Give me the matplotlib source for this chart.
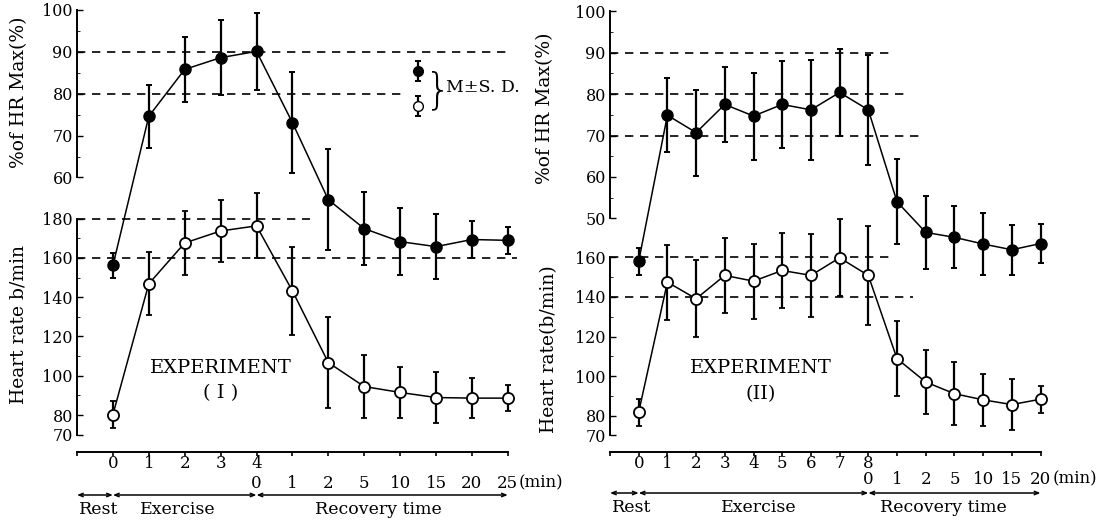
import numpy as np
import matplotlib.pyplot as plt

plt.rcParams['font.family'] = ['DejaVu Serif']

# ---- data: Experiment I ----
pos1 = np.arange(12)
row1_lab1 = ["0", "1", "2", "3", "4"]
row2_lab1 = ["0", "1", "2", "5", "10", "15", "20", "25"]
pct1 = [39.0, 74.6, 85.8, 88.6, 90.1, 73.1, 54.7, 47.8, 44.7, 43.5, 45.2, 45.0]
pct1_sd = [3.0, 7.5, 7.7, 9.0, 9.2, 12.0, 12.0, 8.7, 8.0, 7.7, 4.4, 3.2]
hr1 = [80.2, 146.8, 167.6, 173.7, 176.3, 143.2, 106.7, 94.5, 91.5, 88.9, 88.6, 88.6]
hr1_sd = [6.7, 16.0, 16.5, 16.0, 16.5, 22.5, 23.0, 16.0, 13.0, 13.0, 10.0, 6.8]

# ---- data: Experiment II ----
pos2 = np.arange(15)
row1_lab2 = ["0", "1", "2", "3", "4", "5", "6", "7", "8"]
row2_lab2 = ["0", "1", "2", "5", "10", "15", "20"]
pct2 = [39.6, 74.9, 70.7, 77.5, 74.7, 77.5, 76.2, 80.4, 76.2, 54.0, 46.6, 45.4, 43.8, 42.4, 43.9]
pct2_sd = [3.3, 9.0, 10.4, 9.0, 10.5, 10.5, 12.0, 10.5, 13.3, 10.3, 8.8, 7.5, 7.5, 6.0, 4.7]
hr2 = [81.8, 147.5, 139.1, 150.9, 148.0, 153.4, 150.9, 159.8, 150.9, 108.8, 97.0, 91.1, 88.0, 85.6, 88.3]
hr2_sd = [6.8, 19.0, 19.5, 19.0, 19.0, 19.0, 21.0, 19.5, 25.0, 19.0, 16.0, 16.0, 13.0, 13.0, 6.8]

W, H = 1116, 525
fig = plt.figure(figsize=(W / 100, H / 100), dpi=100)

TOP, BOT = 3, 452   # axes top / bottom in pixels


def lim(px_ref, val_ref, ppu):
    return (val_ref - (BOT - px_ref) / ppu, val_ref + (px_ref - TOP) / ppu)


def yf(px):
    return (BOT - px) / (BOT - TOP)


def panel(left_px, step, xmax, pct_cal, hr_cal, pct_ticks, hr_ticks,
          x, pct, pct_sd, hr, hr_sd, r1, r2, r1_y, r2_y, line_y,
          phase_cuts, phase_labels, min_x, hl_pct, hl_hr, exp_x, exp_lab):
    width = (xmax + 1) * step
    ax = fig.add_axes([left_px / W, 1 - BOT / H, width / W, (BOT - TOP) / H])
    ax.set_xlim(-1, xmax)
    ax.set_ylim(*lim(*hr_cal))
    ax2 = ax.twinx()
    ax2.set_ylim(*lim(*pct_cal))
    for s in ["top", "right"]:
        ax.spines[s].set_visible(False)
    for s in ["top", "right", "bottom"]:
        ax2.spines[s].set_visible(False)
    ax2.yaxis.set_ticks_position("left")
    ax2.spines["left"].set_visible(True)

    ax.spines["left"].set_bounds(hr_ticks[0], hr_ticks[-1])
    ax2.spines["left"].set_bounds(pct_ticks[0], pct_ticks[-1])
    ax.set_yticks([v for v in range(90, hr_ticks[-1], 20)], minor=True)
    ax2.set_yticks([v + 5 for v in pct_ticks[:-1]], minor=True)
    for a, t in ((ax, hr_ticks), (ax2, pct_ticks)):
        a.spines["left"].set_linewidth(1.4)
        a.set_yticks(t)
        a.tick_params(axis="y", direction="in", length=4, width=1, pad=3,
                      labelsize=11.5)
        a.tick_params(axis="y", which="minor", direction="in", length=2)

    ax.spines["bottom"].set_bounds(-1, x[-1])
    ax.spines["bottom"].set_linewidth(1.4)
    ax.set_xticks(np.r_[-1, x])
    ax.set_xticklabels([])
    ax.tick_params(axis="x", direction="out", length=3, width=1.2)

    tr = ax.get_xaxis_transform()
    for i, s in enumerate(r1):
        ax.text(i, yf(r1_y), s, transform=tr, ha="center", va="center", fontsize=12)
    for i, s in enumerate(r2):
        ax.text(len(r1) - 1 + i, yf(r2_y), s, transform=tr, ha="center",
                va="center", fontsize=12)
    ax.text(min_x, yf(r2_y), "(min)", transform=tr, ha="left", va="center",
            fontsize=12)

    # phase arrows
    for a0, a1 in zip(phase_cuts[:-1], phase_cuts[1:]):
        ax.annotate("", xy=(a1, yf(line_y)), xytext=(a0, yf(line_y)),
                    xycoords=tr, textcoords=tr, annotation_clip=False,
                    arrowprops=dict(arrowstyle="<->,head_length=0.3,head_width=0.12",
                                    lw=1.1, color="k", shrinkA=0, shrinkB=0))
    for xc, s in phase_labels:
        ax.text(xc, yf(line_y + 15), s, transform=tr, ha="center",
                va="center", fontsize=12.5)

    # dashed guides
    dash = dict(colors="k", linestyles=(0, (5, 4)), lw=1.2)
    for v, xe in hl_pct:
        ax2.hlines(v, -1, xe, **dash)
    for v, xe in hl_hr:
        ax.hlines(v, -1, xe, **dash)

    eb = dict(fmt="-o", color="k", ms=8, capsize=2, elinewidth=1.6,
              capthick=1.4, lw=1.1)
    ax.errorbar(x, hr, yerr=hr_sd, mfc="white", mec="k", mew=1.3, **eb)
    ax2.errorbar(x, pct, yerr=pct_sd, mfc="k", mec="k", **eb)

    ax.text(exp_x, 104, "EXPERIMENT", ha="center", va="center", fontsize=14)
    ax.text(exp_x, 91, exp_lab, ha="center", va="center", fontsize=14)
    for a in (ax, ax2):
        a.patch.set_visible(False)
    return ax, ax2


ax, ax2 = panel(77, 35.9, 12, (93.7, 80, 4.19), (333.7, 121.4, 1.964),
                [60, 70, 80, 90, 100], [70, 80, 100, 120, 140, 160, 180],
                pos1, pct1, pct1_sd, hr1, hr1_sd, row1_lab1, row2_lab1,
                463, 483, 495, [-1, 0, 4, 11],
                [(-0.4, "Rest"), (1.8, "Exercise"), (7.4, "Recovery time")],
                11.3, [(90, 11.0), (80, 8.2)], [(180, 5.5), (160, 11.25)],
                3.0, "( I )")

# legend for mean +- SD
ax2.errorbar([8.5], [85.5], yerr=[2.4], fmt="o", color="k", ms=7, capsize=2,
             elinewidth=1.6, capthick=1.4)
ax2.errorbar([8.5], [77.0], yerr=[2.4], fmt="o", color="k", mfc="white",
             ms=7, capsize=2, elinewidth=1.6, capthick=1.4)
fig.text(425 / W, 1 - 91 / H, "}", fontsize=30, ha="left", va="center",
         family="DejaVu Sans", fontweight="ultralight")
fig.text(446 / W, 1 - 88 / H, "M\u00b1S. D.", fontsize=12.5, ha="left",
         va="center")

panel(610, 28.7, 16, (114.8, 75, 4.14), (353.0, 111.67, 1.978),
      [50, 60, 70, 80, 90, 100], [70, 80, 100, 120, 140, 160],
      pos2, pct2, pct2_sd, hr2, hr2_sd, row1_lab2, row2_lab2,
      463, 479, 493, [-1, 0, 8, 14],
      [(-0.25, "Rest"), (4.2, "Exercise"), (10.6, "Recovery time")],
      14.42, [(90, 8.85), (80, 9.34), (70, 9.9)], [(160, 8.92), (140, 9.55)],
      4.25, "(II)")

ylab = dict(rotation=90, ha="center", va="center", fontsize=13.5)
fig.text(19 / W, 1 - 92 / H, "%of HR Max(%)", **ylab)
fig.text(19 / W, 1 - 324 / H, "Heart rate b/min", **ylab)
fig.text(545 / W, 1 - 108 / H, "%of HR Max(%)", **ylab)
fig.text(549 / W, 1 - 349 / H, "Heart rate(b/min)", **ylab)

fig.savefig("out.png", dpi=100)
